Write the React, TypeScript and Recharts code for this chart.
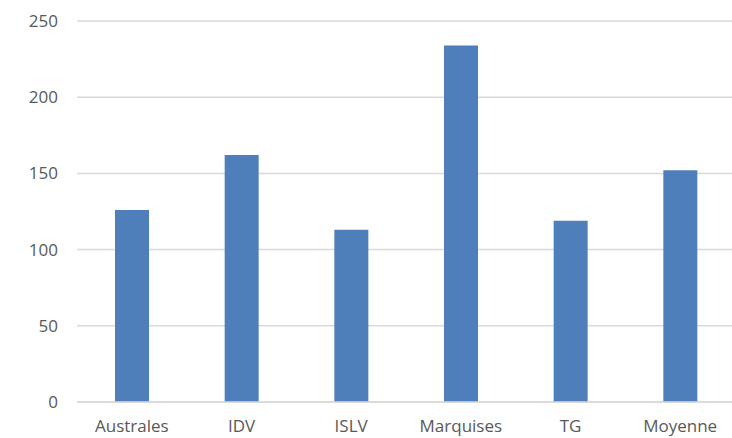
import React from "react";
import { BarChart, Bar, XAxis, YAxis, CartesianGrid } from "recharts";

const categories = ["Australes", "IDV", "ISLV", "Marquises", "TG", "Moyenne"];
const values = [126, 162, 113, 234, 119, 152];
const yTicks = [0, 50, 100, 150, 200, 250];

const data = categories.map((name, i) => ({ name, value: values[i] }));

const tickStyle = { fill: "#595959", fontSize: 17, fontFamily: "'Open Sans', 'Liberation Sans', sans-serif" };

export default function App() {
  return (
    <div style={{ position: "absolute", left: 0, top: 0, width: 732, height: 438, overflow: "hidden", background: "#fff" }}>
      <BarChart width={740} height={438} data={data} margin={{ top: 21, right: 5, bottom: 0, left: 0 }}>
        <CartesianGrid vertical={false} stroke="#d9d9d9" strokeWidth={1.5} />
        <XAxis
          dataKey="name"
          height={36}
          tickLine={false}
          axisLine={{ stroke: "#d9d9d9", strokeWidth: 1.5 }}
          tick={tickStyle}
          tickMargin={12}
          interval={0}
        />
        <YAxis
          width={77}
          domain={[0, 250]}
          ticks={yTicks}
          tickLine={false}
          axisLine={false}
          tick={tickStyle}
          tickMargin={13}
        />
        <Bar dataKey="value" fill="#4f7fbb" barSize={34} isAnimationActive={false} />
      </BarChart>
    </div>
  );
}
